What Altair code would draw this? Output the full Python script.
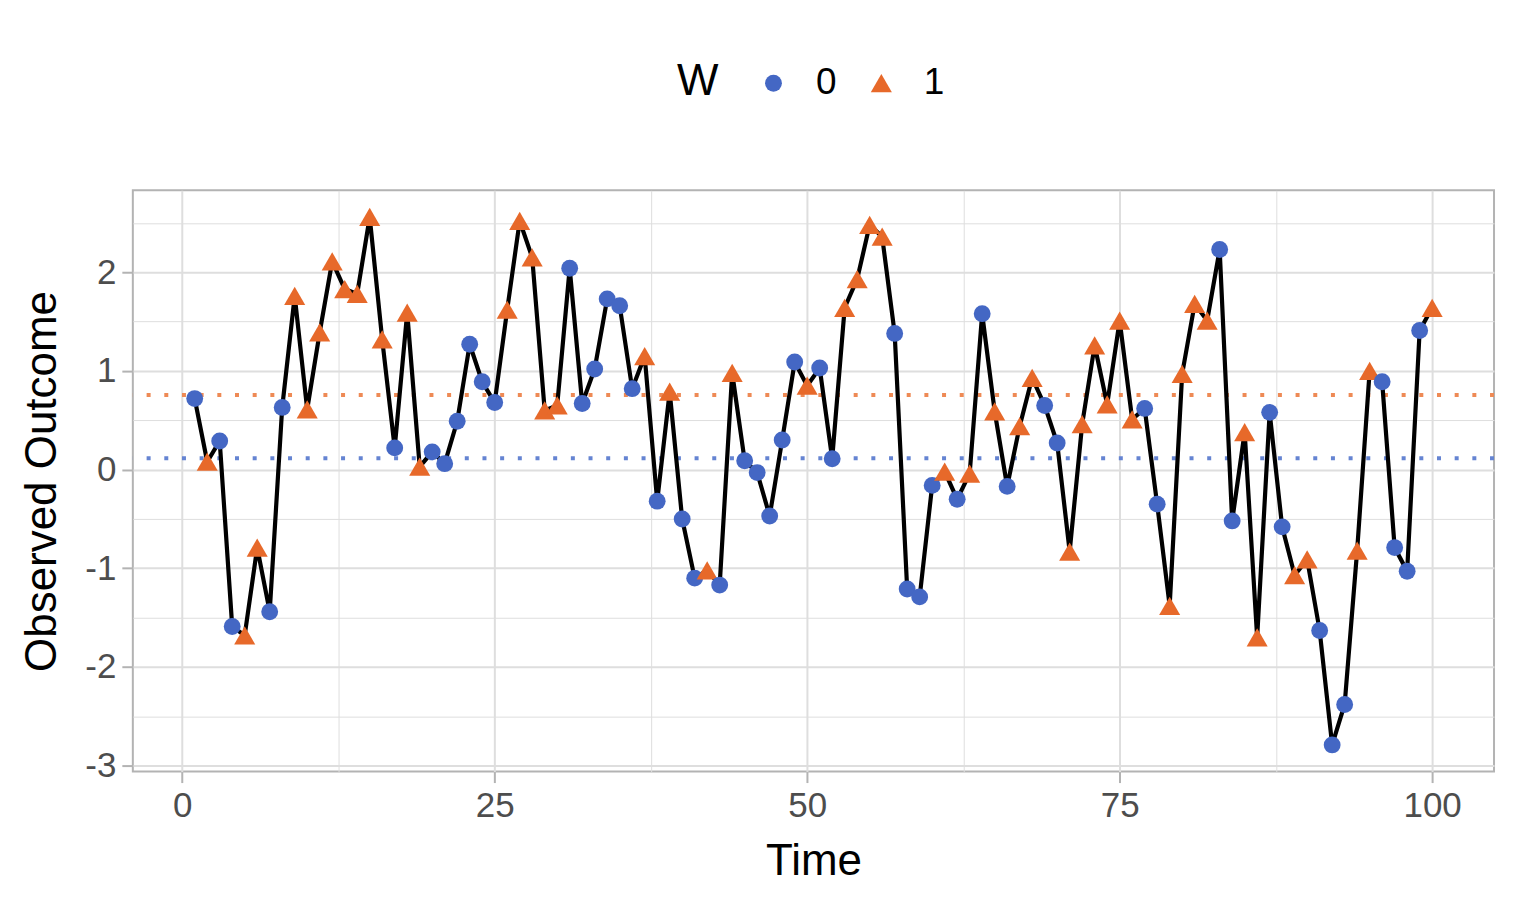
import altair as alt
import pandas as pd

time = list(range(1, 101))
outcome = [
    0.72, 0.08, 0.29, -1.59, -1.68, -0.79, -1.44, 0.63, 1.76, 0.61,
    1.39, 2.11, 1.83, 1.78, 2.56, 1.32, 0.22, 1.59, 0.03, 0.18,
    0.06, 0.49, 1.27, 0.89, 0.68, 1.62, 2.52, 2.15, 0.60, 0.65,
    2.04, 0.67, 1.02, 1.73, 1.66, 0.82, 1.15, -0.32, 0.79, -0.50,
    -1.10, -1.02, -1.17, 0.98, 0.09, -0.03, -0.47, 0.30, 1.09, 0.85,
    1.03, 0.11, 1.64, 1.93, 2.48, 2.36, 1.38, -1.21, -1.29, -0.16,
    -0.02, -0.30, -0.04, 1.58, 0.59, -0.17, 0.44, 0.93, 0.65, 0.27,
    -0.83, 0.46, 1.26, 0.66, 1.51, 0.51, 0.62, -0.35, -1.38, 0.97,
    1.68, 1.51, 2.23, -0.52, 0.38, -1.70, 0.58, -0.58, -1.07, -0.91,
    -1.63, -2.79, -2.38, -0.82, 1.00, 0.89, -0.79, -1.03, 1.41, 1.64,
]
treatment = [
    0, 1, 0, 0, 1, 1, 0, 0, 1, 1,
    1, 1, 1, 1, 1, 1, 0, 1, 1, 0,
    0, 0, 0, 0, 0, 1, 1, 1, 1, 1,
    0, 0, 0, 0, 0, 0, 1, 0, 1, 0,
    0, 1, 0, 1, 0, 0, 0, 0, 0, 1,
    0, 0, 1, 1, 1, 1, 0, 0, 0, 0,
    1, 0, 1, 0, 1, 0, 1, 1, 0, 0,
    1, 1, 1, 1, 1, 1, 0, 0, 1, 1,
    1, 1, 0, 0, 1, 1, 0, 0, 1, 1,
    0, 0, 0, 1, 1, 0, 0, 0, 0, 1,
]
groups = ["0", "1"]
group_means = [0.115, 0.755]
x_ticks = [0, 12.5, 25, 37.5, 50, 62.5, 75, 87.5, 100]
y_ticks = [-3, -2.5, -2, -1.5, -1, -0.5, 0, 0.5, 1, 1.5, 2, 2.5]

BLUE = "#4467C4"
ORANGE = "#E7692A"
FONT = "Liberation Sans"

df = pd.DataFrame({
    "Time": time,
    "Outcome": outcome,
    "W": [str(v) for v in treatment],
})
means0 = pd.DataFrame({"m": [group_means[0]]})
means1 = pd.DataFrame({"m": [group_means[1]]})

y_scale = alt.Scale(domain=[-3.06, 2.83], nice=False, zero=False)

x_enc = alt.X(
    "Time:Q",
    title="Time",
    scale=alt.Scale(domain=[-3.95, 104.95], nice=False, zero=False),
    axis=alt.Axis(
        values=x_ticks,
        labelExpr="datum.value % 25 === 0 ? '' + datum.value : ''",
        gridWidth={"condition": {"test": "datum.value % 25 !== 0", "value": 1}, "value": 2},
        tickOpacity={"condition": {"test": "datum.value % 25 !== 0", "value": 0}, "value": 1},
    ),
)
y_enc = alt.Y(
    "Outcome:Q",
    title="Observed Outcome",
    scale=y_scale,
    axis=alt.Axis(
        values=y_ticks,
        labelExpr="datum.value % 1 === 0 ? '' + datum.value : ''",
        gridWidth={"condition": {"test": "datum.value % 1 !== 0", "value": 1}, "value": 2},
        tickOpacity={"condition": {"test": "datum.value % 1 !== 0", "value": 0}, "value": 1},
    ),
)

rule0 = alt.Chart(means0).mark_rule(
    color="#6584D2", strokeDash=[4, 13.7], strokeWidth=4
).encode(y=alt.Y("m:Q", scale=y_scale))
rule1 = alt.Chart(means1).mark_rule(
    color="#EE8A55", strokeDash=[4, 13.7], strokeWidth=4
).encode(y=alt.Y("m:Q", scale=y_scale))

line = alt.Chart(df).mark_line(color="black", strokeWidth=4.2).encode(x=x_enc, y=y_enc)

pts = alt.Chart(df).mark_point(filled=True, opacity=1).encode(
    x=x_enc,
    y=y_enc,
    color=alt.Color("W:N", title="W", scale=alt.Scale(domain=groups, range=[BLUE, ORANGE])),
    shape=alt.Shape("W:N", title="W", scale=alt.Scale(domain=groups, range=["circle", "triangle-up"])),
    size=alt.Size("W:N", title="W", scale=alt.Scale(domain=groups, range=[285, 445])),
)

chart = alt.layer(rule0, rule1, line, pts).properties(
    width=1363,
    height=582,
    padding={"left": 12, "top": 56, "right": 13, "bottom": 5},
).configure_view(
    stroke="#B3B3B3", strokeWidth=2
).configure_axis(
    domain=False,
    gridColor="#DEDEDE",
    tickColor="#B3B3B3",
    tickWidth=2,
    tickSize=11,
    labelFont=FONT,
    labelFontSize=35,
    labelColor="#4D4D4D",
    labelPadding=6,
    titleFont=FONT,
    titleFontSize=44,
    titleFontWeight="normal",
    titleColor="black",
).configure_axisY(
    titlePadding=20,
).configure_axisX(
    titlePadding=16,
).configure_legend(
    orient="none",
    legendX=545,
    legendY=-126,
    direction="horizontal",
    titleOrient="left",
    titleFont=FONT,
    titleFontSize=44,
    titleFontWeight="normal",
    titleColor="black",
    titlePadding=36,
    labelFont=FONT,
    labelFontSize=37,
    labelColor="black",
    labelOffset=24,
    columnPadding=26,
    symbolStrokeWidth=0,
)

chart.save("out.html", embed_options={"renderer": "svg", "actions": False})
